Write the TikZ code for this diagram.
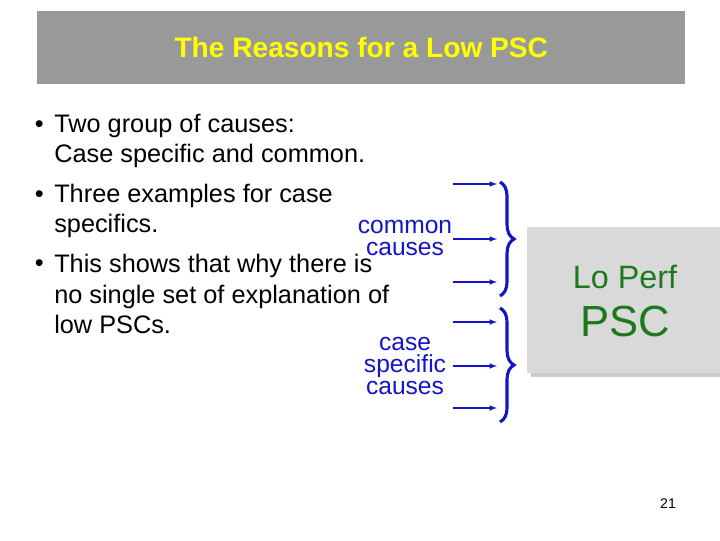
\documentclass[tikz,border=0pt]{standalone}
\usepackage{fontspec}
\setmainfont{Liberation Sans}
\usetikzlibrary{positioning,decorations.pathreplacing,shadows}
\definecolor{causeblue}{RGB}{20,20,200}
\definecolor{perfgreen}{RGB}{30,120,30}
\definecolor{titleyellow}{RGB}{255,255,0}

\begin{document}
\begin{tikzpicture}[
  x=0.025cm, y=-0.025cm,
  bul/.style={anchor=west, font=\fontsize{18}{21.5}\selectfont, align=left, inner sep=0pt},
  dot/.style={anchor=east, font=\fontsize{18}{21.5}\selectfont, inner sep=0pt},
  cause/.style={font=\fontsize{17.5}{15.5}\selectfont, text=causeblue, align=center},
  arr/.style={-latex, causeblue, thick},
  brc/.style={causeblue, line width=2.2pt, decorate, decoration={brace, amplitude=10pt}}
]
\useasboundingbox (0,0) rectangle (720,540);

% title
\node[fill=black!40, minimum width=648*0.025cm, minimum height=73*0.025cm, anchor=north west] (title) at (37,11) {};
\node[text=titleyellow, font=\bfseries\fontsize{20}{24}\selectfont] at (title.center) {The Reasons for a Low PSC};

% bullets
\node[bul] (b1) at (54,141) {Two group of causes:\\Case specific and common.};
\node[bul] (b2) at (54,211) {Three examples for case\\specifics.};
\node[bul] (b3) at (54,294) {This shows that why there is\\no single set of explanation of\\low PSCs.};
\node[dot] at (44,127) {\textbullet};
\node[dot] at (44,197) {\textbullet};
\node[dot] at (44,266) {\textbullet};

% result box
\node[fill=black!15, drop shadow={opacity=0.4}, minimum width=193*0.025cm, minimum height=146*0.025cm, anchor=north west] (perf) at (527,227) {};
\node[text=perfgreen, font=\fontsize{23}{27}\selectfont] (lo) at (625,277) {Lo Perf};
\node[text=perfgreen, font=\fontsize{31}{36}\selectfont] (psc) at (625,321) {PSC};

% causes
\node[cause] (common) at (405,238) {common\\causes};
\node[cause] (specific) at (405,366) {case\\specific\\causes};

\foreach \y [count=\i] in {184,239,282,322,366,408} {
  \coordinate (s\i) at (453,\y);
  \coordinate (e\i) at (497,\y);
  \draw[arr] (s\i) -- (e\i);
}

\coordinate (ta) at (500,182);
\coordinate (tb) at (500,296);
\coordinate (ba) at (500,308);
\coordinate (bb) at (500,422);
\draw[brc] (ta) -- (tb);
\draw[brc] (ba) -- (bb);

\node[font=\fontsize{10}{12}\selectfont] (page) at (668,504) {21};
\end{tikzpicture}
\end{document}
